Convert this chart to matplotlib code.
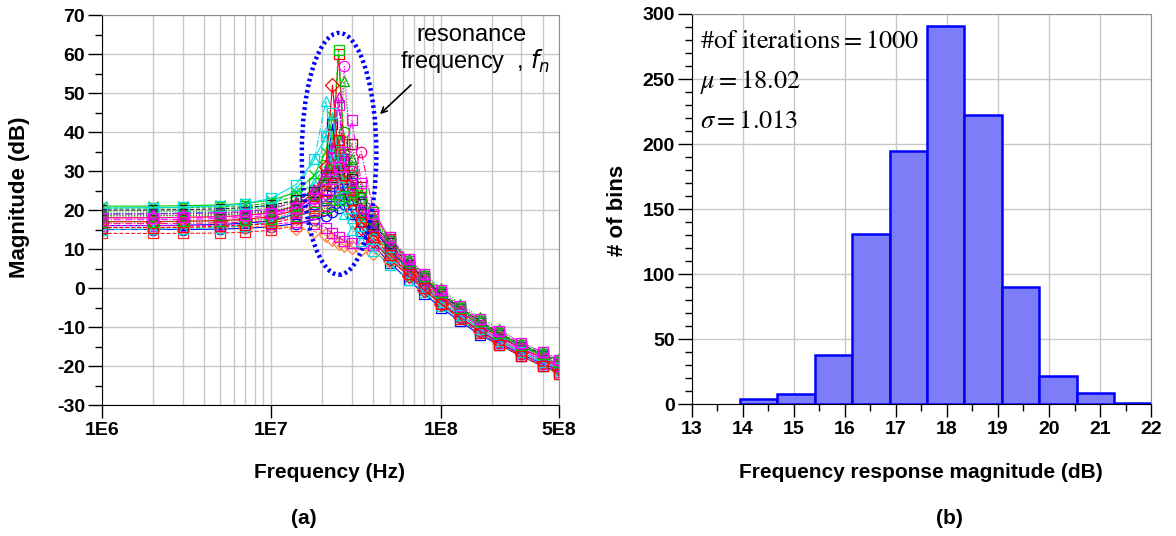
import matplotlib
matplotlib.use("Agg")
import matplotlib.pyplot as plt
import matplotlib.ticker as ticker
from matplotlib.patches import Ellipse

plt.rcParams['font.family'] = ['Liberation Sans', 'DejaVu Sans']
plt.rcParams['axes.unicode_minus'] = False
plt.rcParams['mathtext.fontset'] = 'stix'

# ---- (a) Monte Carlo frequency responses ----
freq_hz = [1e6, 2e6, 3e6, 5e6, 7e6, 1e7, 1.4e7, 1.8e7, 2.1e7, 2.3e7, 2.5e7, 2.7e7,
           3e7, 3.4e7, 4e7, 5e7, 6.5e7, 8e7, 1e8, 1.3e8, 1.7e8, 2.2e8, 3e8, 4e8, 5e8]

mag_01 = [18.0, 18.0, 18.1, 18.3, 18.6, 19.3, 21.0, 24.5, 29.0, 35.0, 60.0, 34.0, 26.0, 20.0, 15.5, 10.5, 5.5, 2.0, -2.0, -6.0, -9.5, -12.5, -15.5, -18.0, -20.0]
mag_02 = [20.5, 20.5, 20.6, 20.8, 21.1, 21.8, 23.5, 27.0, 31.5, 38.0, 61.0, 37.0, 28.0, 21.5, 17.0, 12.0, 7.0, 3.0, -1.0, -5.0, -8.5, -11.5, -14.5, -17.0, -18.5]
mag_03 = [17.0, 17.0, 17.1, 17.2, 17.4, 17.9, 19.2, 21.5, 24.0, 27.0, 32.0, 57.0, 30.0, 22.0, 16.0, 10.0, 5.0, 1.0, -3.0, -7.0, -10.5, -13.5, -16.5, -19.0, -21.0]
mag_04 = [19.0, 19.1, 19.2, 19.6, 20.2, 21.5, 25.0, 33.0, 48.0, 35.0, 27.0, 22.5, 18.0, 14.5, 11.5, 7.5, 3.0, 0.0, -3.5, -7.0, -10.0, -13.0, -16.0, -18.5, -20.0]
mag_05 = [16.0, 16.0, 16.1, 16.3, 16.6, 17.2, 19.0, 23.0, 29.0, 42.0, 30.0, 24.5, 19.0, 14.5, 11.0, 6.5, 2.0, -1.5, -5.0, -8.5, -12.0, -14.5, -17.5, -20.0, -21.5]
mag_06 = [14.0, 14.0, 14.0, 14.1, 14.3, 14.8, 16.0, 18.0, 20.0, 22.5, 26.0, 30.0, 24.0, 18.0, 13.5, 9.0, 4.0, 0.5, -3.5, -7.5, -11.0, -14.0, -17.5, -20.0, -22.0]
mag_07 = [19.5, 19.5, 19.6, 19.8, 20.1, 20.7, 22.3, 25.0, 28.5, 32.0, 38.0, 53.0, 33.0, 24.0, 18.0, 12.5, 7.5, 3.5, 0.0, -4.0, -7.5, -10.5, -14.0, -16.5, -18.0]
mag_08 = [17.5, 17.5, 17.6, 17.8, 18.1, 18.7, 20.3, 23.5, 28.0, 33.5, 47.0, 32.0, 25.0, 19.5, 15.0, 10.0, 5.0, 1.5, -2.5, -6.5, -10.0, -13.0, -16.0, -18.5, -20.5]
mag_09 = [15.0, 15.0, 15.0, 15.1, 15.3, 15.7, 16.5, 17.5, 18.5, 19.5, 20.5, 21.5, 22.5, 19.0, 15.0, 10.0, 4.5, 0.5, -3.5, -7.5, -11.0, -14.0, -17.0, -19.5, -21.0]
mag_10 = [15.5, 15.5, 15.5, 15.6, 15.7, 15.8, 15.5, 14.5, 13.5, 12.5, 11.5, 11.0, 10.5, 10.0, 9.0, 7.0, 3.5, 0.5, -3.0, -7.0, -10.5, -13.5, -16.5, -19.0, -21.0]
mag_11 = [18.5, 18.5, 18.6, 18.8, 19.1, 19.6, 21.0, 23.0, 25.0, 27.0, 29.5, 32.5, 37.0, 26.0, 18.5, 12.5, 7.0, 3.0, -1.0, -5.0, -8.5, -11.5, -15.0, -17.5, -19.5]
mag_12 = [16.5, 16.5, 16.6, 16.7, 16.9, 17.3, 18.3, 19.8, 21.0, 22.5, 24.0, 26.0, 29.0, 35.0, 20.0, 12.5, 6.5, 2.5, -1.5, -5.5, -9.0, -12.0, -15.5, -18.0, -20.0]
mag_13 = [21.0, 21.0, 21.1, 21.3, 21.7, 22.5, 24.5, 29.0, 35.0, 44.0, 34.0, 28.0, 23.0, 18.0, 14.0, 9.5, 4.5, 1.0, -2.5, -6.0, -9.5, -12.0, -15.0, -17.0, -18.5]
mag_14 = [16.0, 16.0, 16.0, 16.1, 16.2, 16.4, 16.8, 16.5, 15.5, 14.0, 13.0, 12.0, 11.5, 11.5, 11.0, 8.5, 4.0, 0.5, -3.5, -7.5, -11.0, -14.0, -17.0, -19.5, -21.5]
mag_15 = [19.0, 19.0, 19.1, 19.2, 19.4, 19.8, 20.6, 21.5, 22.5, 23.5, 24.5, 25.5, 27.0, 22.0, 17.0, 11.5, 6.0, 2.5, -1.5, -5.5, -9.0, -12.0, -15.0, -17.5, -19.5]
mag_16 = [15.0, 15.1, 15.2, 15.5, 16.0, 17.0, 20.0, 27.0, 40.0, 30.0, 23.0, 19.0, 15.0, 12.0, 9.5, 6.0, 2.0, -1.0, -4.5, -8.0, -11.5, -14.5, -17.5, -20.0, -22.0]
mag_17 = [17.0, 17.0, 17.1, 17.3, 17.6, 18.3, 20.0, 24.0, 31.0, 52.0, 33.0, 26.0, 20.0, 15.5, 12.0, 7.5, 3.0, -0.5, -4.0, -7.5, -11.0, -13.5, -16.5, -19.0, -20.5]
mag_18 = [20.0, 20.0, 20.1, 20.3, 20.6, 21.2, 22.5, 24.5, 26.5, 28.5, 30.5, 33.0, 28.0, 21.5, 16.5, 11.5, 6.0, 2.5, -1.5, -5.0, -8.5, -11.5, -14.5, -17.0, -19.0]
mag_19 = [18.5, 18.5, 18.6, 18.8, 19.1, 19.7, 21.2, 23.8, 27.0, 30.5, 35.0, 40.0, 31.0, 23.0, 17.5, 12.0, 6.5, 2.5, -1.5, -5.5, -9.0, -12.0, -15.0, -17.5, -19.5]
mag_20 = [19.0, 19.0, 19.1, 19.3, 19.6, 20.3, 22.0, 25.5, 30.0, 36.0, 49.0, 34.0, 26.5, 20.5, 16.0, 11.0, 6.0, 2.0, -2.0, -6.0, -9.5, -12.5, -15.5, -18.0, -20.0]
mag_21 = [20.5, 20.6, 20.7, 21.0, 21.6, 23.0, 26.5, 33.0, 39.0, 45.0, 33.0, 26.0, 20.5, 16.0, 12.5, 8.0, 3.5, 0.0, -3.5, -7.0, -10.5, -13.5, -16.5, -19.0, -20.5]
mag_22 = [15.5, 15.5, 15.6, 15.8, 16.1, 16.6, 18.0, 21.0, 25.0, 29.0, 38.0, 29.0, 22.5, 17.0, 13.0, 8.5, 3.5, 0.0, -4.0, -8.0, -11.5, -14.5, -17.5, -20.0, -22.0]
mag_23 = [17.0, 17.0, 17.1, 17.2, 17.4, 17.7, 18.5, 19.5, 20.5, 21.5, 22.5, 23.5, 24.5, 25.0, 19.5, 13.0, 7.0, 3.0, -1.0, -5.0, -8.5, -11.5, -14.5, -17.0, -19.0]
mag_24 = [18.0, 18.0, 18.1, 18.3, 18.6, 19.2, 20.6, 23.0, 25.5, 28.0, 31.0, 35.0, 43.0, 27.0, 19.0, 13.0, 7.5, 3.5, -0.5, -4.5, -8.0, -11.0, -14.0, -16.5, -18.5]

curves = [mag_01, mag_02, mag_03, mag_04, mag_05, mag_06, mag_07, mag_08, mag_09, mag_10,
          mag_11, mag_12, mag_13, mag_14, mag_15, mag_16, mag_17, mag_18, mag_19, mag_20,
          mag_21, mag_22, mag_23, mag_24]

# ---- (b) histogram ----
bin_edges = [13.95, 14.68, 15.41, 16.15, 16.88, 17.61, 18.34, 19.08, 19.81, 20.54, 21.27, 22.00]
bin_counts = [4, 8, 38, 131, 195, 291, 222, 90, 22, 9, 1]

colors = ['#ff0000', '#00cc00', '#ff00ff', '#00dddd', '#0000ff', '#ff2020', '#00bb00', '#ff00ff',
          '#0000ff', '#ff8040', '#990000', '#ff0080', '#00cc00', '#ee00ee', '#2020ff', '#00dddd',
          '#ff0000', '#202020', '#00aa00', '#cc00cc', '#00dddd', '#ff0000', '#00bb00', '#ff00ff']
markers = ['s', 's', 'o', '^', 's', 's', '^', 's', 'o', 'D', 's', 'o', 'x', 's', 's', '^',
           'D', 's', 'o', '^', 's', 's', 's', 's']
styles = ['-', '--', ':', '-.']

fig = plt.figure(figsize=(11.76, 5.36), dpi=100)
ax1 = fig.add_axes([0.0865, 0.2444, 0.3889, 0.7276])
ax2 = fig.add_axes([0.5882, 0.2457, 0.3906, 0.7282])

gridc = '#c8c8c8'

# (a)
for i, m in enumerate(curves):
    ax1.plot(freq_hz, m, color=colors[i], ls=styles[i % 4], lw=0.8, marker=markers[i],
             ms=7.5, mfc='none', mew=0.9, zorder=2)
ax1.set_xscale('log')
ax1.set_xlim(1e6, 5e8)
ax1.set_ylim(-30, 70)
ax1.set_xticks([1e6, 1e7, 1e8, 5e8])
ax1.set_xticklabels(['1E6', '1E7', '1E8', '5E8'])
ax1.xaxis.set_minor_locator(ticker.LogLocator(base=10, subs=range(2, 10), numticks=20))
ax1.xaxis.set_minor_formatter(ticker.NullFormatter())
ax1.yaxis.set_major_locator(ticker.MultipleLocator(10))
ax1.yaxis.set_minor_locator(ticker.MultipleLocator(5))
ax1.grid(which='major', axis='y', color=gridc, lw=1)
ax1.grid(which='both', axis='x', color=gridc, lw=1)

ax1.add_patch(Ellipse((0.519, 0.644), 0.163, 0.62, transform=ax1.transAxes, fill=False,
                      ec='#0000ff', lw=3.2, ls=(0, (0.6, 0.7)), zorder=5))
ax1.annotate('', xy=(378, 536 - 116), xycoords='figure pixels',
             xytext=(413, 536 - 83), textcoords='figure pixels',
             arrowprops=dict(arrowstyle='->', color='black', lw=1.2))
fig.text(416 / 1176, 1 - 41 / 536, 'resonance', fontsize=17, ha='left', va='baseline')
fig.text(400 / 1176, 1 - 68 / 536, r'frequency  , $\mathit{f}_{n}$', fontsize=17,
         math_fontfamily='dejavusans', ha='left', va='baseline')

# (b)
widths = [b - a for a, b in zip(bin_edges[:-1], bin_edges[1:])]
ax2.bar(bin_edges[:-1], bin_counts, width=widths, align='edge', color='#7d7df7',
        edgecolor='#0000ff', lw=1.8, zorder=3)
ax2.set_xlim(13, 22)
ax2.set_ylim(0, 300)
ax2.xaxis.set_major_locator(ticker.MultipleLocator(1))
ax2.xaxis.set_minor_locator(ticker.MultipleLocator(0.5))
ax2.yaxis.set_major_locator(ticker.MultipleLocator(50))
ax2.yaxis.set_minor_locator(ticker.MultipleLocator(10))
ax2.grid(which='major', color=gridc, lw=1)

ax2.text(13.16, 274, r'$\#\mathrm{of\ iterations}=1000$', fontsize=19, va='baseline')
ax2.text(13.16, 243, r'$\mu=18.02$', fontsize=19, va='baseline')
ax2.text(13.16, 212, r'$\sigma=1.013$', fontsize=19, va='baseline')

for ax in (ax1, ax2):
    ax.set_axisbelow(True)
    ax.spines['top'].set_color('#909090')
    ax.spines['right'].set_color('#909090')
    ax.tick_params(which='major', direction='out', length=9, width=1, pad=3, labelsize=14)
    ax.tick_params(which='minor', direction='out', length=5, width=1)
    ax.tick_params(axis='y', which='major', length=10, pad=2)
    plt.setp(ax.get_xticklabels() + ax.get_yticklabels(), fontweight='bold')
ax1.tick_params(axis='x', which='minor', length=0)

# labels
fig.text(20 / 1176, 1 - 197 / 536, 'Magnitude (dB)', rotation=90, fontsize=16,
         fontweight='bold', ha='center', va='center')
fig.text(617 / 1176, 1 - 210 / 536, '# of bins', rotation=90, fontsize=16,
         fontweight='bold', ha='center', va='center')
fig.text(330 / 1176, 1 - 473 / 536, 'Frequency (Hz)', fontsize=15, fontweight='bold',
         ha='center', va='center')
fig.text(921 / 1176, 1 - 473 / 536, 'Frequency response magnitude (dB)', fontsize=15,
         fontweight='bold', ha='center', va='center')
fig.text(304 / 1176, 1 - 519 / 536, '(a)', fontsize=15, fontweight='bold',
         ha='center', va='center')
fig.text(949 / 1176, 1 - 519 / 536, '(b)', fontsize=15, fontweight='bold',
         ha='center', va='center')

fig.savefig('out.png', dpi=100)
